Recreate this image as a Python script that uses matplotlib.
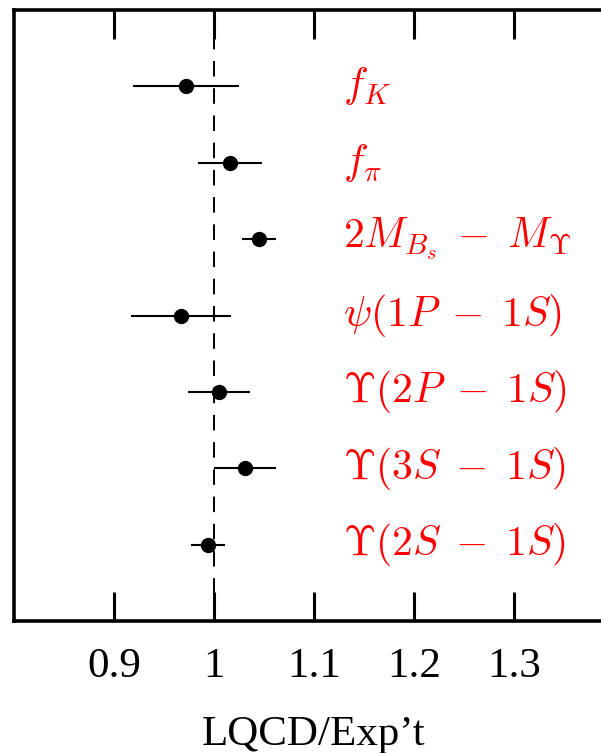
import matplotlib
matplotlib.use('Agg')
import matplotlib.pyplot as plt

labels = [r'$f_K$', r'$f_\pi$', r'$2M_{B_s} \;-\; M_\Upsilon$', r'$\psi(1P \;-\; 1S)$',
          r'$\Upsilon(2P \;-\; 1S)$', r'$\Upsilon(3S \;-\; 1S)$', r'$\Upsilon(2S \;-\; 1S)$']
ratio = [0.972, 1.016, 1.045, 0.967, 1.005, 1.031, 0.994]
err = [0.053, 0.032, 0.017, 0.050, 0.031, 0.031, 0.017]
rows = [7, 6, 5, 4, 3, 2, 1]
xticks = [0.9, 1.0, 1.1, 1.2, 1.3, 1.4]
xtick_labels = ['0.9', '1', '1.1', '1.2', '1.3', '']

plt.rcParams['font.family'] = ['Liberation Serif', 'DejaVu Serif']
plt.rcParams['mathtext.fontset'] = 'cm'

fig = plt.figure(figsize=(6.01, 7.53), dpi=100)
ax = fig.add_axes([14 / 601, 132 / 753, 600 / 601, 611 / 753])

ax.axvline(1.0, color='black', lw=1.4, linestyle=(0, (8, 6)), zorder=1)
ax.errorbar(ratio, rows, xerr=err, fmt='o', color='black', ms=10,
            elinewidth=1.5, capsize=0, zorder=3)

for lab, y in zip(labels, rows):
    ax.text(1.129, y, lab, color='red', fontsize=30, ha='left', va='center')

ax.set_xlim(0.8, 1.4)
ax.set_ylim(0, 8)
ax.set_xticks(xticks)
ax.set_xticklabels(xtick_labels)
ax.set_yticks([])
ax.tick_params(axis='x', direction='in', top=True, length=21, width=2.2,
               labelsize=31, pad=19)
for sp in ax.spines.values():
    sp.set_linewidth(2.6)
ax.set_xlabel('LQCD/Exp\u2019t', fontsize=31, labelpad=21)

fig.savefig('out.png', dpi=100)
